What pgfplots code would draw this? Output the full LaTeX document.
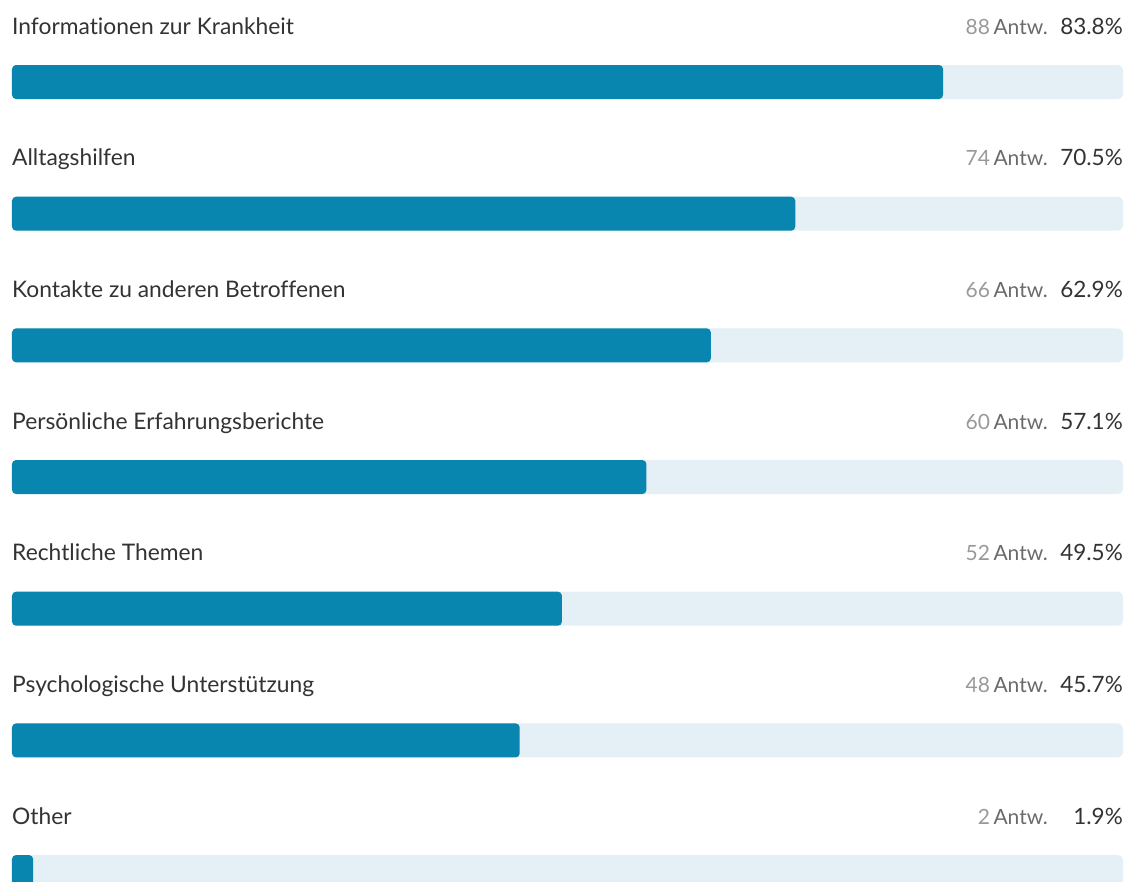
\documentclass[border=0pt]{standalone}
\usepackage{pgfplots}
\pgfplotsset{compat=1.18}
\usepackage{fontspec}
\setmainfont{Lato}[Ligatures=NoCommon]
\definecolor{barc}{HTML}{0886B0}
\definecolor{trackc}{HTML}{E4F0F5}
\definecolor{txt}{HTML}{333333}
\definecolor{cnt}{HTML}{6A6A6A}
\definecolor{cntn}{HTML}{999999}
\begin{document}
\begin{tikzpicture}
\begin{axis}[
  scale only axis, width=1130pt, height=881pt,
  xmin=-1.08, xmax=100.63, ymin=-6.068, ymax=0.623,
  hide axis, clip=true,
]
\addplot[xbar, bar width=34pt, bar shift=0pt, fill=trackc, draw=none, rounded corners=5pt]
  coordinates {(100,0) (100,-1) (100,-2) (100,-3) (100,-4) (100,-5) (100,-6)};
\addplot[xbar, bar width=34pt, bar shift=0pt, fill=barc, draw=none, rounded corners=4pt]
  coordinates {(83.8,0) (70.5,-1) (62.9,-2) (57.1,-3) (49.5,-4) (45.7,-5) (1.9,-6)};
\def\lab#1#2#3#4{%
  \node[anchor=base west, text=txt, font=\fontsize{22.8}{26}\selectfont, inner sep=0pt] at (axis cs:0,{-#1+0.3645}) {#2};
  \node[anchor=base east, text=cnt, font=\fontsize{21}{24}\selectfont, inner sep=0pt] at (axis cs:93.25,{-#1+0.3645}) {\textcolor{cntn}{#3}\,Antw.};
  \node[anchor=base east, text=txt, font=\fontsize{22.5}{26}\selectfont, inner sep=0pt] at (axis cs:100,{-#1+0.3645}) {#4\%};
}
\lab{0}{Informationen zur Krankheit}{88}{83.8}
\lab{1}{Alltagshilfen}{74}{70.5}
\lab{2}{Kontakte zu anderen Betroffenen}{66}{62.9}
\lab{3}{Persönliche Erfahrungsberichte}{60}{57.1}
\lab{4}{Rechtliche Themen}{52}{49.5}
\lab{5}{Psychologische Unterstützung}{48}{45.7}
\lab{6}{Other}{2}{1.9}
\end{axis}
\pgfresetboundingbox
\useasboundingbox (current axis.south west) rectangle (current axis.north east);
\end{tikzpicture}
\end{document}
